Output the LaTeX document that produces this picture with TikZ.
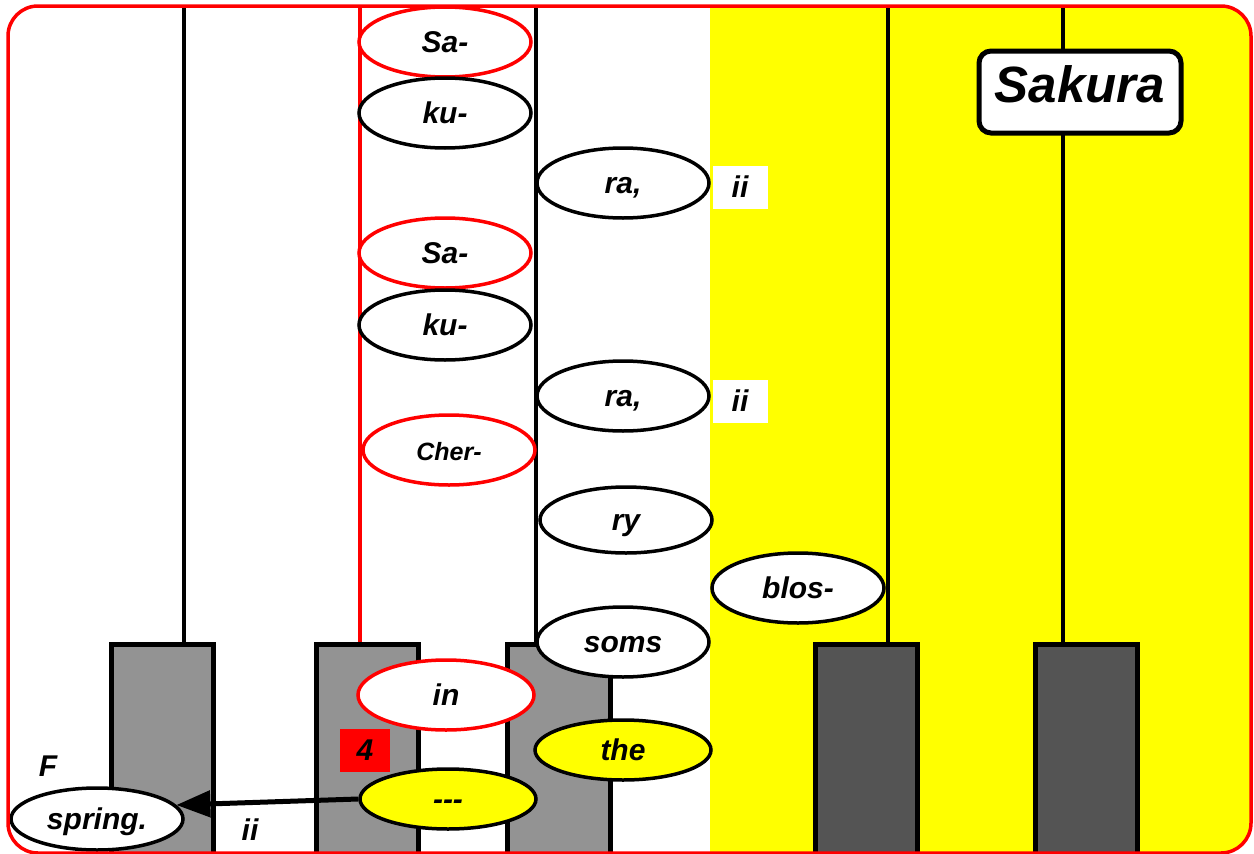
\documentclass[tikz,border=0pt]{standalone}
\usepackage{fontspec}
\setmainfont{Liberation Sans}
\usepackage{tikz}
\usetikzlibrary{arrows.meta,calc,shapes.geometric}
\definecolor{keyyellow}{RGB}{255,255,0}
\definecolor{keyred}{RGB}{255,0,0}
\tikzstyle{lyric} = [ellipse, draw=black, line width=3.5pt, fill=white, minimum width=172pt, minimum height=70pt, inner sep=0pt, text height=24pt, text depth=4pt]
\tikzstyle{redlyric} = [lyric, draw=keyred]
\tikzstyle{sunglyric} = [lyric, fill=keyyellow, minimum height=60pt]
\tikzstyle{keyblack} = [draw=black, line width=5pt, fill=gray!85!white]
\tikzstyle{keydark} = [draw=black, line width=5pt, fill=black!67]
\tikzstyle{repeatbox} = [fill=white, minimum width=55pt, minimum height=43pt, inner sep=0pt]
\tikzset{font={\fontsize{30}{34}\selectfont\bfseries\itshape}}

\begin{document}
\begin{tikzpicture}[x=1pt, y=-1pt]
  \useasboundingbox (0,0) rectangle (1254,854);

  % background
  \begin{scope}
    \clip[rounded corners=30pt] (8,6) rectangle (1251,853);
    \fill[white] (8,6) rectangle (710,853);
    \fill[keyyellow] (710,6) rectangle (1251,853);
  \end{scope}

  % strings
  \draw[line width=3.5pt] (184,7) -- (184,644);
  \draw[line width=3.5pt, keyred] (360,7) -- (360,644);
  \draw[line width=3.5pt] (536,7) -- (536,644);
  \draw[line width=3.5pt] (888,7) -- (888,644);
  \draw[line width=3.5pt] (1063,7) -- (1063,644);

  % keys
  \filldraw[keyblack] (111,644) rectangle (213,860);
  \filldraw[keyblack] (316,644) rectangle (418,860);
  \filldraw[keyblack] (507,644) rectangle (610,860);
  \filldraw[keydark] (815,644) rectangle (917,860);
  \filldraw[keydark] (1035,644) rectangle (1137,860);

  % lyrics
  \node[redlyric] (sa1) at (445,42) {Sa-};
  \node[lyric] (ku1) at (445,113) {ku-};
  \node[lyric] (ra1) at (623,183) {ra,};
  \node[redlyric] (sa2) at (445,253) {Sa-};
  \node[lyric] (ku2) at (445,325) {ku-};
  \node[lyric] (ra2) at (623,396) {ra,};
  \node[redlyric, font={\fontsize{25}{28}\selectfont\bfseries\itshape}] (cher) at (449,450) {Cher-};
  \node[lyric, minimum height=66pt] (ry) at (626,520) {ry};
  \node[lyric] (blos) at (798,588) {blos-};
  \node[lyric] (soms) at (623,642) {soms};
  \node[redlyric, minimum width=176pt] (in) at (446,695) {in};
  \node[sunglyric, minimum width=176pt] (the) at (623,750) {the};
  \node[sunglyric, minimum width=176pt] (dash) at (448,799) {{-}{-}{-}};
  \node[lyric, minimum width=172pt, minimum height=62pt] (spring) at (97,819) {spring.};

  % marks
  \node[repeatbox] (rep1) at (740,187) {ii};
  \node[repeatbox] (rep2) at (740,401) {ii};
  \node[fill=keyred, minimum width=50pt, minimum height=43pt, inner sep=0pt] (four) at (365,750) {4};
  \node (fmark) at (48,766) {F};
  \node (rep3) at (250,830) {ii};
  \node[draw=black, line width=5pt, fill=white, rounded corners=12pt, minimum width=202pt, minimum height=82pt,
    text height=38pt, text depth=18pt, inner sep=0pt,
    font={\fontsize{51}{56}\selectfont\bfseries\itshape}] (title) at (1080,92) {Sakura};

  \draw[line width=5pt, -{Triangle[length=34pt, width=26pt]}] (dash.west) -- (spring.10);

  % border
  \draw[keyred, line width=3.5pt, rounded corners=30pt] (8,6) rectangle (1251,853);
\end{tikzpicture}
\end{document}
